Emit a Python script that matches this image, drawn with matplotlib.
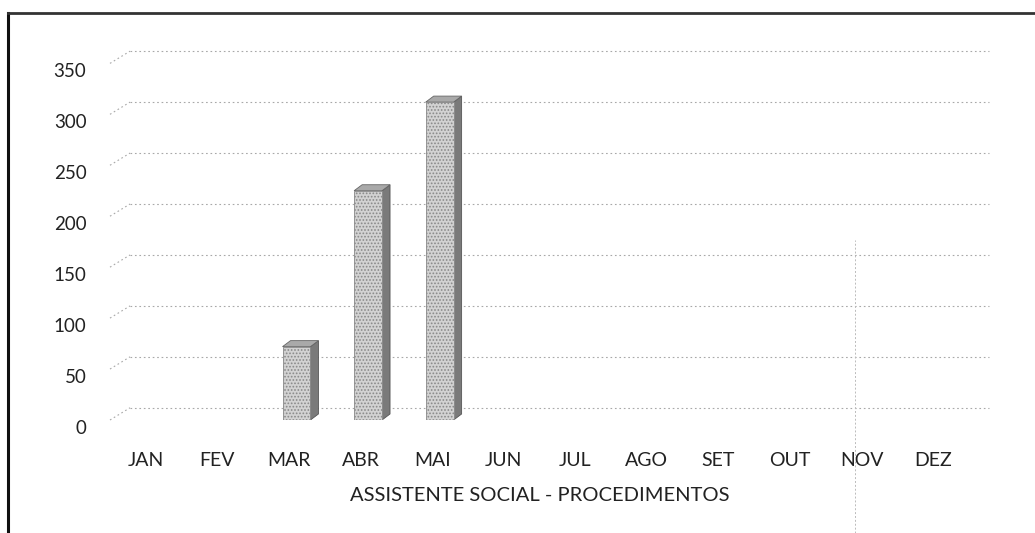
import matplotlib.pyplot as plt
from matplotlib.patches import Polygon
from matplotlib.lines import Line2D
from matplotlib.transforms import ScaledTranslation

# dados do grafico
meses = ['JAN', 'FEV', 'MAR', 'ABR', 'MAI', 'JUN', 'JUL', 'AGO', 'SET', 'OUT', 'NOV', 'DEZ']
procedimentos = [0, 0, 72, 225, 312, 0, 0, 0, 0, 0, 0, 0]
y_ticks = [0, 50, 100, 150, 200, 250, 300, 350]
titulo = 'ASSISTENTE SOCIAL - PROCEDIMENTOS'

plt.rcParams['font.family'] = ['Lato', 'DejaVu Sans']
plt.rcParams['hatch.color'] = '#b4b4b4'
plt.rcParams['hatch.linewidth'] = 0.8

fig = plt.figure(figsize=(10.35, 5.33), dpi=100)
ax = fig.add_axes([110/1035, 113/533, 859/1035, 377/533])
ax.set_xlim(-0.5, 11.5)
ax.set_ylim(0, 370)

# efeito 3D: parede do fundo deslocada
back_dx = 0.28
back_dy = 12
grid_kw = dict(color='#a8a8a8', lw=0.8, linestyle=(0, (1.5, 2.5)), zorder=1)
for v in y_ticks:
    ax.plot([-0.5 + back_dx, 11.5 + back_dx], [v + back_dy, v + back_dy], clip_on=False, **grid_kw)
    ax.plot([-0.5, -0.5 + back_dx], [v, v + back_dy], clip_on=False, **grid_kw)

# barras 3D
w = 0.39
off = 0.105
ddx = 0.112
ddy = 5.9
x = list(range(len(meses)))
for i, v in zip(x, procedimentos):
    if v <= 0:
        continue
    xl = i + off - w / 2
    xr = i + off + w / 2
    side = Polygon([(xr, 0), (xr + ddx, ddy), (xr + ddx, v + ddy), (xr, v)],
                   facecolor='#7a7a7a', edgecolor='#555555', lw=0.6, zorder=3)
    top = Polygon([(xl, v), (xr, v), (xr + ddx, v + ddy), (xl + ddx, v + ddy)],
                  facecolor='#a9a9a9', edgecolor='#666666', lw=0.6, zorder=3)
    ax.add_patch(side)
    ax.add_patch(top)
ax.bar([i + off for i in x], procedimentos, width=w, color='#d2d2d2',
       edgecolor='#888888', linewidth=0.6, hatch='.....', zorder=4)

for s in ax.spines.values():
    s.set_visible(False)

ax.set_xticks(x)
ax.set_xticklabels(meses, fontsize=14, color='#222222')
ax.set_yticks(y_ticks)
ax.set_yticklabels([str(v) for v in y_ticks], fontsize=13.5, color='#222222')
ax.tick_params(axis='both', length=0)
ax.tick_params(axis='x', pad=23)
ax.tick_params(axis='y', pad=17)
for lab in ax.get_yticklabels():
    lab.set_transform(lab.get_transform() + ScaledTranslation(0, -0.07, fig.dpi_scale_trans))

ax.set_xlabel(titulo, fontsize=14.5, color='#222222', labelpad=13)

# moldura da figura
fig.add_artist(Line2D([8/1035, 8/1035], [0, 1 - 13/533], transform=fig.transFigure,
                      color='#111111', lw=2.2))
fig.add_artist(Line2D([8/1035, 1], [1 - 13/533, 1 - 13/533], transform=fig.transFigure,
                      color='#333333', lw=2.0))
fig.add_artist(Line2D([855/1035, 855/1035], [0, 1 - 240/533], transform=fig.transFigure,
                      color='#bbbbbb', lw=0.7, linestyle=(0, (2, 2))))

fig.savefig('out.png', dpi=100)
